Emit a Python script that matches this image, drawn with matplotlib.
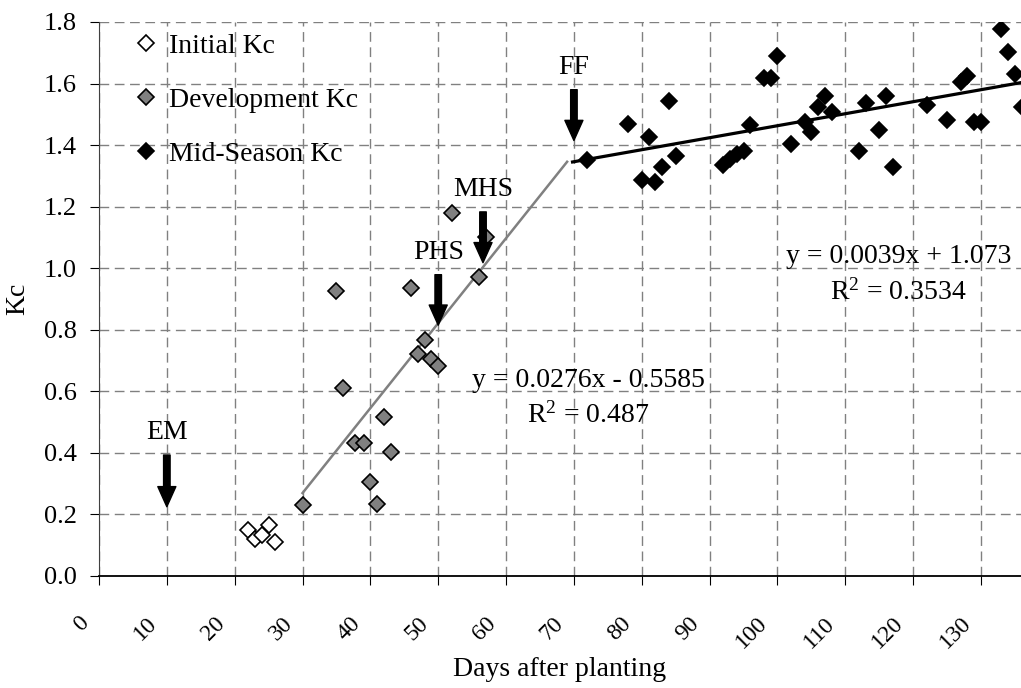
import numpy as np
import matplotlib
matplotlib.use("Agg")
import matplotlib.pyplot as plt
from matplotlib.transforms import ScaledTranslation

plt.rcParams["font.family"] = "Liberation Serif"
plt.rcParams["mathtext.fontset"] = "custom"
plt.rcParams["mathtext.rm"] = "Liberation Serif"
plt.rcParams["mathtext.it"] = "Liberation Serif:italic"

#Initial stage Kc
init_day = [22, 23, 24, 25, 26]
init_kc = [0.150, 0.120, 0.133, 0.166, 0.111]

#Development stage Kc
dev_day = [30, 35, 36, 37.7, 39, 40, 41, 42, 43, 46, 47, 48, 49, 50, 52, 56, 57]
dev_kc = [0.231, 0.925, 0.612, 0.433, 0.431, 0.306, 0.234, 0.518, 0.404,
          0.935, 0.720, 0.767, 0.705, 0.683, 1.180, 0.970, 1.100]

#Mid-season Kc
mid_day = [72, 78, 81, 84, 80, 82, 83, 85, 92, 93, 94, 95, 96, 98, 99, 100,
           102, 104, 105, 106, 107, 108, 112, 113, 115, 116, 117, 122, 125,
           127, 128, 129, 130, 133, 134, 135, 136]
mid_kc = [1.352, 1.470, 1.427, 1.542, 1.287, 1.281, 1.330, 1.365, 1.337, 1.355,
          1.372, 1.380, 1.464, 1.617, 1.617, 1.688, 1.402, 1.475, 1.443, 1.523,
          1.561, 1.507, 1.380, 1.537, 1.448, 1.558, 1.330, 1.529, 1.480, 1.606,
          1.623, 1.475, 1.475, 1.776, 1.701, 1.631, 1.523]

#Regression fits
dev_fit = (0.0276, -0.5585)
dev_range = [30, 69]
mid_fit = (0.0039, 1.073)
mid_range = [69.8, 136]

#Growth stage markers: label, day, arrow top, arrow tip
stages = [("EM", 10, 0.393, 0.225),
          ("PHS", 50, 0.979, 0.815),
          ("MHS", 56.6, 1.183, 1.018),
          ("FF", 70, 1.580, 1.415)]

fig = plt.figure(figsize=(10.21, 6.88), dpi=100)
ax = fig.add_axes([99/1021, 1-576/688, 922/1021, 554/688])

ax.grid(True, color="#808080", linestyle=(0, (7, 4)), linewidth=1)
ax.set_axisbelow(True)

x1 = np.array(dev_range)
ax.plot(x1, dev_fit[0]*x1 + dev_fit[1], color="#808080", lw=1.8, zorder=2)
x2 = np.array(mid_range)
ax.plot(x2, mid_fit[0]*x2 + mid_fit[1], color="black", lw=2.3, zorder=2)

ms = 8.3
ax.plot(init_day, init_kc, "D", ms=ms, mfc="white", mec="black", mew=1.2,
        label="Initial Kc", zorder=3)
ax.plot(dev_day, dev_kc, "D", ms=ms, mfc="#808080", mec="black", mew=1.2,
        label="Development Kc", zorder=3)
ax.plot(mid_day, mid_kc, "D", ms=ms, mfc="black", mec="black", mew=1.2,
        label="Mid-Season Kc", zorder=3)

for name, d, top, tip in stages:
    ax.annotate("", xy=(d, tip), xytext=(d, top),
                arrowprops=dict(width=4.7, headwidth=13, headlength=14.5,
                                facecolor="black", edgecolor="black", shrink=0))
    ax.text(d, top + 0.033, name, ha="center", va="bottom", fontsize=20)

ax.text(72.2, 0.614, "y = 0.0276x - 0.5585", ha="center", va="baseline", fontsize=20)
ax.text(72.1, 0.500, "R$^{2}$ = 0.487", ha="center", va="baseline", fontsize=20)
ax.text(117.8, 1.017, "y = 0.0039x + 1.073", ha="center", va="baseline", fontsize=20)
ax.text(117.8, 0.897, "R$^{2}$ = 0.3534", ha="center", va="baseline", fontsize=20)

ax.set_xlim(0, 135.9)
ax.set_ylim(0, 1.8)
ax.set_xticks(np.arange(0, 131, 10))
ax.set_yticks(np.arange(0, 1.81, 0.2))
ax.set_yticklabels(["{:.1f}".format(v) for v in np.arange(0, 1.81, 0.2)])
ax.tick_params(axis="both", direction="out", length=6.5)
ax.tick_params(axis="x", pad=20, labelsize=17)
ax.tick_params(axis="y", pad=9.4, labelsize=19)
for lab in ax.get_xticklabels():
    lab.set_rotation(45)
    lab.set_ha("right")
    lab.set_transform(lab.get_transform() + ScaledTranslation(-6/100, 0, fig.dpi_scale_trans))

for s in ["top", "right"]:
    ax.spines[s].set_visible(False)
ax.spines["left"].set_color("#404040")
ax.spines["bottom"].set_linewidth(1.3)

ax.set_xlabel("Days after planting", fontsize=20)
ax.xaxis.set_label_coords(0.5, (576-657)/554)
ax.set_ylabel("Kc", fontsize=20, labelpad=10)

ax.legend(loc="upper left", bbox_to_anchor=(0.034, 0.99), frameon=False,
          fontsize=20, handlelength=0.7, handletextpad=0.5, labelspacing=1.04,
          borderaxespad=0, borderpad=0.2)

fig.savefig("out.png", dpi=100)
